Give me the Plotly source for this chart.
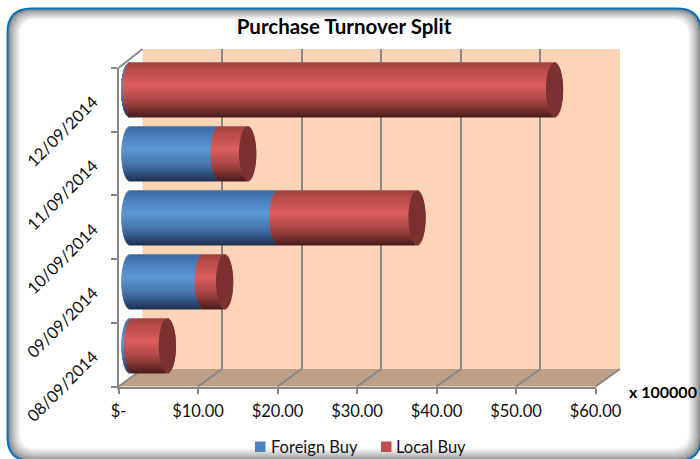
import plotly.graph_objects as go

dates = ["08/09/2014", "09/09/2014", "10/09/2014", "11/09/2014", "12/09/2014"]
foreign_buy = [0.3, 9.2, 18.6, 11.2, 0.1]
local_buy = [4.4, 2.7, 17.5, 3.6, 53.3]
x_ticks = [0, 10, 20, 30, 40, 50, 60]
x_labels = ["$-", "$10.00", "$20.00", "$30.00", "$40.00", "$50.00", "$60.00"]
series_names = ["Foreign Buy", "Local Buy"]

W, H = 700, 459
FONT = "Lato"
GRID = "#878787"
TEXT = "#111111"

def px(v): return v / W
def py(v): return 1 - v / H

# chart geometry in page pixels
FRONT_X = (118.5, 595.5); FRONT_Y = (68, 386.5)
MID_X = (130, 607);       MID_Y = (57.5, 377.5)
BACK_X = (142.5, 620);    BACK_Y = (49, 369)
BAR_PAD = 2  # axis units kept left of zero so the rounded bar ends are not cut
MID_LEFT = MID_X[0] - BAR_PAD * (MID_X[1] - MID_X[0]) / 60

def hexrgb(h): return tuple(int(h[i:i+2], 16) for i in (1, 3, 5))
def ramp(stops, t):
    for (a, ca), (b, cb) in zip(stops, stops[1:]):
        if t <= b:
            f = (t - a) / (b - a)
            ca, cb = hexrgb(ca), hexrgb(cb)
            return "rgb(%d,%d,%d)" % tuple(round(p + (q - p) * f) for p, q in zip(ca, cb))
    return stops[-1][1]

BLUE = [(0, "#3d6ba5"), (0.2, "#4c82bf"), (0.42, "#5b97d6"), (0.7, "#4776ac"), (0.88, "#2f5180"), (1, "#1d3350")]
RED = [(0, "#9f4241"), (0.2, "#bf4f4e"), (0.42, "#da5f5d"), (0.7, "#ab4846"), (0.88, "#7a3130"), (1, "#4a1c1e")]
CAP = "#7c3232"

STRIPS = 54
BAR_W = 0.845
CAP_A = 1.08  # half width of the cylinder's end, in axis units

def lens(t):
    u = 2 * t - 1
    return CAP_A * max(0.0, 1 - u * u) ** 0.5

fig = go.Figure()

# subplots stack in axis order: wall (x/y), front axes (x2/y2), bars (x3/y3)
fig.add_trace(go.Scatter(x=[0], y=[0], xaxis="x", yaxis="y", mode="none", showlegend=False, hoverinfo="skip"))
fig.add_trace(go.Bar(x=[0], y=[dates[0]], xaxis="x2", yaxis="y2", orientation="h", showlegend=False,
                     hoverinfo="skip", marker_line_width=0))

totals = [f + l for f, l in zip(foreign_buy, local_buy)]
step = BAR_W / STRIPS
for i in range(STRIPS):
    t = (i + 0.5) / STRIPS
    e = lens(t)
    offs = BAR_W / 2 - (i + 1) * step
    common = dict(y=dates, orientation="h", width=step * 1.5, offset=offs - step * 0.25,
                  xaxis="x3", yaxis="y3", showlegend=False, hoverinfo="skip",
                  marker_line_width=0, cliponaxis=False)
    fig.add_trace(go.Bar(x=foreign_buy, base=[-e] * 5, marker_color=ramp(BLUE, t), **common))
    fig.add_trace(go.Bar(x=local_buy, base=[f - e for f in foreign_buy], marker_color=ramp(RED, t), **common))
    fig.add_trace(go.Bar(x=[2 * e] * 5, base=[s - e for s in totals], marker_color=CAP, **common))

# frame with soft inner shadow
def rrect(l, t, r, b, rad):
    k = rad
    return (f"M {px(l+k)} {py(t)} L {px(r-k)} {py(t)} Q {px(r)} {py(t)} {px(r)} {py(t+k)} "
            f"L {px(r)} {py(b-k)} Q {px(r)} {py(b)} {px(r-k)} {py(b)} "
            f"L {px(l+k)} {py(b)} Q {px(l)} {py(b)} {px(l)} {py(b-k)} "
            f"L {px(l)} {py(t+k)} Q {px(l)} {py(t)} {px(l+k)} {py(t)} Z")

shapes = []
L, T, R, B = 7.5, 8.5, 701, 461
shapes.append(dict(type="path", path=rrect(L, T, R, B, 24), xref="paper", yref="paper",
                   fillcolor="#ffffff", line=dict(width=0), layer="below"))
SHADE = 13
for i in range(SHADE, 0, -1):
    g = round(118 + (255 - 118) * (i / SHADE) ** 0.75)
    shapes.append(dict(type="path", path=rrect(L + i, T + i * 0.85, R - i, B - i, max(24 - i * 0.6, 6)),
                       xref="paper", yref="paper", line=dict(color=f"rgb({g},{g},{g})", width=1.6),
                       layer="below"))
shapes.append(dict(type="path", path=rrect(L, T, R, B, 24), xref="paper", yref="paper",
                   line=dict(color="#0b72bd", width=2), layer="below"))

# back wall and floor
def poly(points):
    return "M " + " L ".join(f"{px(a)} {py(b)}" for a, b in points) + " Z"

shapes.append(dict(type="path", xref="paper", yref="paper", layer="below", line=dict(width=0),
                   fillcolor="#fdd4b5",
                   path=poly([(BACK_X[0], BACK_Y[0]), (BACK_X[1], BACK_Y[0]), (BACK_X[1], BACK_Y[1]), (BACK_X[0], BACK_Y[1])])))
shapes.append(dict(type="path", xref="paper", yref="paper", layer="below", line=dict(width=0),
                   fillcolor="#bda087",
                   path=poly([(FRONT_X[0], FRONT_Y[1]), (FRONT_X[1], FRONT_Y[1]), (BACK_X[1], BACK_Y[1]), (BACK_X[0], BACK_Y[1])])))
for v in x_ticks:
    f = v / 60
    xf = FRONT_X[0] + f * (FRONT_X[1] - FRONT_X[0])
    xb = BACK_X[0] + f * (BACK_X[1] - BACK_X[0])
    shapes.append(dict(type="line", xref="paper", yref="paper", layer="below",
                       x0=px(xf), y0=py(FRONT_Y[1]), x1=px(xb), y1=py(BACK_Y[1]),
                       line=dict(color=GRID, width=2)))
shapes.append(dict(type="line", xref="paper", yref="paper", layer="below",
                   x0=px(FRONT_X[0]), y0=py(FRONT_Y[0]), x1=px(BACK_X[0]), y1=py(BACK_Y[0]),
                   line=dict(color=GRID, width=2)))

# legend keys
for x0, color in ((255, "#4f81bd"), (381, "#c0504d")):
    shapes.append(dict(type="rect", xref="paper", yref="paper", x0=px(x0), x1=px(x0 + 10.5), y0=py(452), y1=py(441.5),
                       fillcolor=color, line=dict(width=0)))

def dom_x(p): return [px(p[0]), px(p[1])]
def dom_y(p): return [py(p[1]), py(p[0])]

fig.update_layout(
    width=W, height=H, margin=dict(l=0, r=0, t=0, b=0, autoexpand=False),
    paper_bgcolor="#ffffff", plot_bgcolor="rgba(0,0,0,0)",
    barmode="overlay", shapes=shapes, showlegend=False,
    font=dict(family=FONT, color=TEXT, size=16),
    title=dict(text="<b>Purchase Turnover Split</b>", x=344 / W, xanchor="center",
               y=py(27), yanchor="middle", font=dict(family=FONT, size=20.5, color="#000000")),
    xaxis=dict(domain=dom_x(BACK_X), range=[0, 60], tickmode="array", tickvals=x_ticks, showticklabels=False,
               showgrid=True, gridcolor=GRID, gridwidth=2, zeroline=False, ticks="", anchor="y"),
    yaxis=dict(domain=dom_y(BACK_Y), range=[0, 1], visible=False, anchor="x"),
    xaxis2=dict(domain=dom_x(FRONT_X), range=[0, 60], tickmode="array", tickvals=x_ticks, ticktext=x_labels,
                ticks="outside", ticklen=5, tickwidth=2, tickcolor=GRID, showline=True, linecolor=GRID,
                linewidth=2, showgrid=False, zeroline=False, anchor="y2", automargin=False,
                ticklabelstandoff=4, tickfont=dict(family=FONT, size=16.5, color=TEXT)),
    yaxis2=dict(domain=dom_y(FRONT_Y), type="category", categoryorder="array", categoryarray=dates,
                range=[-0.5, 4.5], tickmode="array", tickvals=dates, ticktext=dates, tickson="boundaries",
                ticks="outside", ticklen=6, tickwidth=2, tickcolor=GRID, showline=True, linecolor=GRID,
                linewidth=2, showgrid=False, zeroline=False, anchor="x2", tickangle=-45, automargin=False,
                ticklabelstandoff=20, tickfont=dict(family=FONT, size=16.5, color=TEXT)),
    xaxis3=dict(domain=dom_x((MID_LEFT, MID_X[1])), range=[-BAR_PAD, 60], visible=False, anchor="y3"),
    yaxis3=dict(domain=dom_y(MID_Y), type="category", categoryorder="array", categoryarray=dates,
                range=[-0.5, 4.5], visible=False, anchor="x3"),
    annotations=[
        dict(text="<b>x 100000</b>", xref="paper", yref="paper", x=px(662.5), y=py(391),
             xanchor="center", yanchor="middle", showarrow=False, font=dict(family=FONT, size=16, color="#000000")),
        dict(text=series_names[0], xref="paper", yref="paper", x=px(269), y=py(447), xanchor="left",
             yanchor="middle", showarrow=False, font=dict(family=FONT, size=16.5, color=TEXT)),
        dict(text=series_names[1], xref="paper", yref="paper", x=px(394), y=py(447), xanchor="left",
             yanchor="middle", showarrow=False, font=dict(family=FONT, size=16.5, color=TEXT)),
    ],
)

fig.write_html("out.html", config={"displayModeBar": False},
               post_script="document.body.style.margin='0';")
